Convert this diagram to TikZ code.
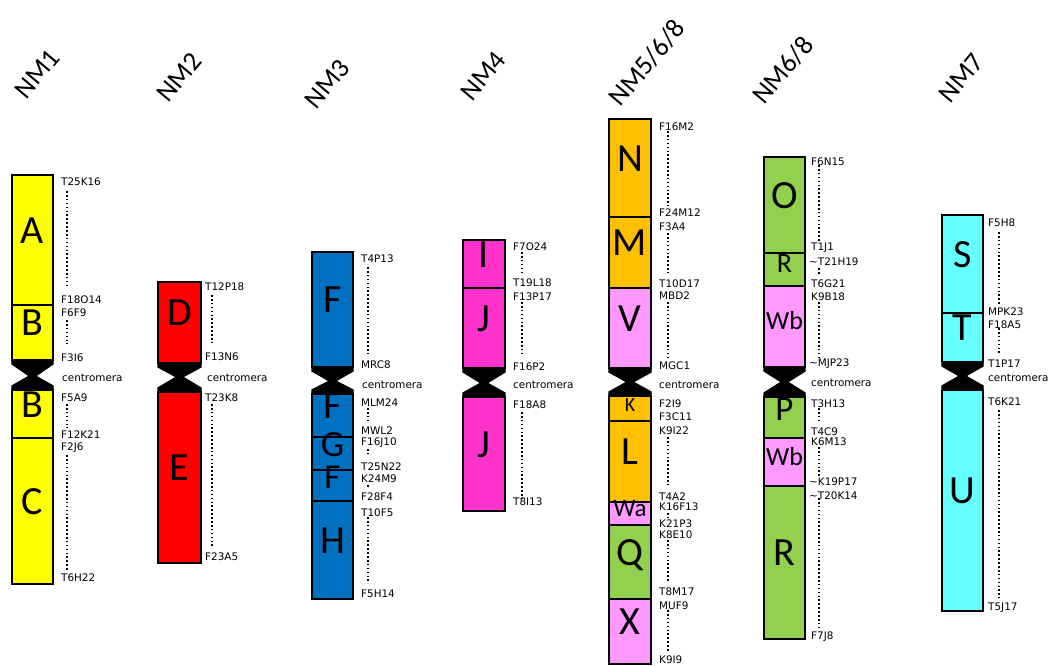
\documentclass[tikz,border=0pt]{standalone}
\usepackage{fontspec}
\setmainfont{Carlito}
\newfontfamily\labfont{DejaVu Sans}
\definecolor{cyel}{HTML}{FFFF00}
\definecolor{cred}{HTML}{FF0000}
\definecolor{cblu}{HTML}{0070C0}
\definecolor{cmag}{HTML}{FF33CC}
\definecolor{cora}{HTML}{FFC000}
\definecolor{cpnk}{HTML}{FF99FF}
\definecolor{cgrn}{HTML}{92D050}
\definecolor{ccya}{HTML}{66FFFF}
\newcounter{lc}
\tikzset{
  segbox/.style={draw=black, line width=2.7pt},
  segtxt/.style={inner sep=0pt, text height=0.63em, text depth=0pt},
  lab/.style={anchor=west, inner sep=0pt, font=\labfont\fontsize{10.4}{11}\selectfont},
  dotln/.style={line width=1.6pt, dash pattern=on 1.6pt off 2.3pt},
  ttl/.style={rotate=50, inner sep=0pt, font=\fontsize{27}{27}\selectfont}
}
\newcommand{\chrseg}[8]{%
  \draw[segbox, fill=#6] (#2,#3) rectangle (#4,#5);
  \node[segtxt, font=\fontsize{#8}{#8}\selectfont] (#1) at ({(#2+#4)/2},{(#3+#5)/2}) {#7};}
\newcommand{\centro}[5]{%
  \filldraw[line width=1.4pt, line join=miter] (#1,#3) -- (#2,#3) -- (#2,#3+4) -- ({(#1+#2)/2+3},#4) -- (#2,#5-4) -- (#2,#5) -- (#1,#5) -- (#1,#5-4) -- ({(#1+#2)/2-3},#4) -- (#1,#3+4) -- cycle;}
\newcommand{\lbl}[3]{\stepcounter{lc}\node[lab] (lab\arabic{lc}) at (#1,#2) {#3};}
\newcommand{\dotl}[3]{\draw[dotln] (#1,#2) -- (#1,#3);}
\begin{document}
\begin{tikzpicture}[x=1pt,y=-1pt]
\useasboundingbox[fill=white] (0,0) rectangle (1056,666);
% titles
\node[ttl] (t1) at (37,74) {NM1};
\node[ttl] (t2) at (179,77) {NM2};
\node[ttl] (t3) at (327,84) {NM3};
\node[ttl] (t4) at (483,76) {NM4};
\node[ttl] (t5) at (647,63) {NM5/6/8};
\node[ttl] (t6) at (783,70) {NM6/8};
\node[ttl] (t7) at (961,78) {NM7};
% NM1
\chrseg{a1}{12}{175}{53}{305}{cyel}{A}{40}
\chrseg{b1}{12}{305}{53}{360}{cyel}{B}{40}
\centro{12}{53}{360}{376}{390}
\chrseg{b2}{12}{390}{53}{438}{cyel}{B}{40}
\chrseg{c1}{12}{438}{53}{584}{cyel}{C}{40}
\lbl{61}{182}{T25K16}\lbl{61}{300}{F18O14}\lbl{61}{313}{F6F9}\lbl{61}{358}{F3I6}
\lbl{62}{378}{centromera}\lbl{61}{398}{F5A9}\lbl{61}{435}{F12K21}\lbl{61}{448}{F2J6}\lbl{61}{578}{T6H22}
\dotl{67}{191}{286}\dotl{67}{320}{344}\dotl{67}{404}{428}\dotl{67}{455}{570}
% NM2
\chrseg{d1}{158}{282}{201}{363}{cred}{D}{40}
\centro{158}{201}{363}{377}{392}
\chrseg{e1}{158}{392}{201}{563}{cred}{E}{40}
\lbl{205}{287}{T12P18}\lbl{205}{357}{F13N6}\lbl{207}{378}{centromera}\lbl{205}{398}{T23K8}\lbl{205}{557}{F23A5}
\dotl{212}{295}{342}\dotl{212}{404}{546}
% NM3
\chrseg{f1}{312}{252}{353}{367}{cblu}{F}{40}
\centro{312}{353}{367}{381}{394}
\chrseg{f2}{312}{394}{353}{437}{cblu}{F}{40}
\chrseg{g1}{312}{437}{353}{470}{cblu}{G}{37}
\chrseg{f3}{312}{470}{353}{501}{cblu}{F}{35}
\chrseg{h1}{312}{501}{353}{599}{cblu}{H}{40}
\lbl{361}{259}{T4P13}\lbl{361}{365}{MRC8}\lbl{362}{385}{centromera}\lbl{361}{403}{MLM24}
\lbl{361}{431}{MWL2}\lbl{361}{443}{F16J10}\lbl{361}{467}{T25N22}\lbl{361}{479}{K24M9}
\lbl{361}{497}{F28F4}\lbl{361}{513}{T10F5}\lbl{361}{594}{F5H14}
\dotl{368}{267}{353}\dotl{368}{408}{421}\dotl{368}{449}{453}\dotl{368}{485}{487}\dotl{368}{517}{581}
% NM4
\chrseg{i1}{463}{240}{505}{288}{cmag}{I}{40}
\chrseg{j1}{463}{288}{505}{368}{cmag}{J}{40}
\centro{463}{505}{368}{383}{397}
\chrseg{j2}{463}{397}{505}{511}{cmag}{J}{40}
\lbl{513}{247}{F7O24}\lbl{513}{283}{T19L18}\lbl{513}{297}{F13P17}\lbl{513}{367}{F16P2}
\lbl{513}{385}{centromera}\lbl{513}{405}{F18A8}\lbl{513}{502}{T8I13}
\dotl{522}{252}{274}\dotl{522}{302}{353}\dotl{522}{412}{500}
% NM5/6/8
\chrseg{n1}{609}{119}{651}{217}{cora}{N}{40}
\chrseg{m1}{609}{217}{651}{288}{cora}{M}{40}
\chrseg{v1}{609}{288}{651}{368}{cpnk}{V}{40}
\centro{609}{651}{368}{382}{396}
\chrseg{k1}{609}{396}{651}{421}{cora}{K}{20}
\chrseg{l1}{609}{421}{651}{502}{cora}{L}{40}
\chrseg{wa1}{609}{502}{651}{525}{cpnk}{Wa}{25}
\chrseg{q1}{609}{525}{651}{599}{cgrn}{Q}{40}
\chrseg{x1}{609}{599}{651}{664}{cpnk}{X}{40}
\lbl{659}{127}{F16M2}\lbl{659}{213}{F24M12}\lbl{659}{227}{F3A4}\lbl{659}{284}{T10D17}
\lbl{659}{296}{MBD2}\lbl{659}{366}{MGC1}\lbl{659}{385}{centromera}\lbl{659}{404}{F2I9}
\lbl{659}{417}{F3C11}\lbl{659}{431}{K9I22}\lbl{659}{497}{T4A2}\lbl{659}{507}{K16F13}
\lbl{659}{524}{K21P3}\lbl{659}{535}{K8E10}\lbl{659}{592}{T8M17}\lbl{659}{606}{MUF9}\lbl{659}{660}{K9I9}
\dotl{668}{131}{206}\dotl{668}{233}{273}\dotl{668}{302}{358}\dotl{668}{437}{486}
\dotl{668}{513}{518}\dotl{668}{540}{581}\dotl{668}{610}{651}
% NM6/8
\chrseg{o1}{764}{157}{805}{253}{cgrn}{O}{40}
\chrseg{r1}{764}{253}{805}{286}{cgrn}{R}{28}
\chrseg{wb1}{764}{286}{805}{367}{cpnk}{Wb}{26}
\centro{764}{805}{367}{382}{397}
\chrseg{p1}{764}{397}{805}{438}{cgrn}{P}{35}
\chrseg{wb2}{764}{438}{805}{486}{cpnk}{Wb}{26}
\chrseg{r2}{764}{486}{805}{639}{cgrn}{R}{40}
\lbl{811}{162}{F6N15}\lbl{811}{248}{T1J1}\lbl{809}{262}{\textasciitilde T21H19}\lbl{811}{284}{T6G21}
\lbl{811}{297}{K9B18}\lbl{809}{364}{\textasciitilde MJP23}\lbl{811}{383}{centromera}\lbl{811}{404}{T3H13}
\lbl{811}{432}{T4C9}\lbl{811}{442}{K6M13}\lbl{809}{482}{\textasciitilde K19P17}\lbl{809}{496}{\textasciitilde T20K14}\lbl{811}{637}{F7J8}
\dotl{819}{165}{241}\dotl{819}{268}{274}\dotl{819}{302}{359}\dotl{819}{408}{423}\dotl{819}{447}{478}\dotl{819}{498}{629}
% NM7
\chrseg{s1}{942}{215}{983}{313}{ccya}{S}{40}
\chrseg{tt1}{942}{313}{983}{362}{ccya}{T}{40}
\centro{942}{983}{362}{376}{390}
\chrseg{u1}{942}{390}{983}{611}{ccya}{U}{40}
\lbl{988}{223}{F5H8}\lbl{988}{312}{MPK23}\lbl{988}{325}{F18A5}\lbl{988}{364}{T1P17}
\lbl{988}{378}{centromera}\lbl{988}{402}{T6K21}\lbl{988}{608}{T5J17}
\dotl{999}{232}{304}\dotl{999}{328}{353}\dotl{999}{410}{598}
\end{tikzpicture}
\end{document}
